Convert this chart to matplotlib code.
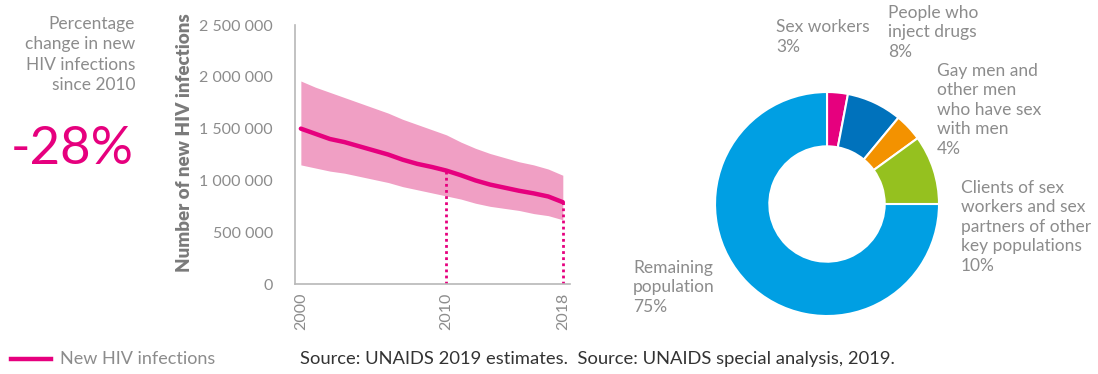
import matplotlib.pyplot as plt
import matplotlib.ticker as mticker

plt.rcParams['font.family'] = ['Lato', 'DejaVu Sans']

# New HIV infections, 2000-2018, with uncertainty bounds
years = list(range(2000, 2019))
infections = [1.50e6, 1.45e6, 1.40e6, 1.37e6, 1.33e6, 1.29e6, 1.25e6, 1.20e6, 1.16e6, 1.13e6,
              1.095e6, 1.05e6, 1.00e6, 0.96e6, 0.93e6, 0.90e6, 0.875e6, 0.845e6, 0.79e6]
upper = [1.96e6, 1.90e6, 1.85e6, 1.80e6, 1.75e6, 1.70e6, 1.65e6, 1.59e6, 1.54e6, 1.49e6,
         1.44e6, 1.37e6, 1.31e6, 1.26e6, 1.22e6, 1.18e6, 1.15e6, 1.11e6, 1.05e6]
lower = [1.15e6, 1.12e6, 1.09e6, 1.07e6, 1.04e6, 1.01e6, 0.98e6, 0.94e6, 0.91e6, 0.88e6,
         0.85e6, 0.82e6, 0.78e6, 0.75e6, 0.73e6, 0.71e6, 0.68e6, 0.66e6, 0.62e6]
marked_years = [2010, 2018]
xtick_years = [2000, 2010, 2018]

# Distribution of new infections by population
groups = ['Sex workers', 'People who\ninject drugs', 'Gay men and\nother men\nwho have sex\nwith men',
          'Clients of sex\nworkers and sex\npartners of other\nkey populations', 'Remaining\npopulation']
shares = [3, 8, 4, 10, 75]

pink = '#E6007E'
gray = '#8C8C8C'
pie_colors = ['#E6007E', '#0072BC', '#F39200', '#95C11F', '#009FE3']

fig = plt.figure(figsize=(10.98, 3.74), dpi=100)

# headline figure on the left
fig.text(0.123, 0.958, 'Percentage\nchange in new\nHIV infections\nsince 2010', ha='right', va='top',
         fontsize=12.5, color=gray, linespacing=1.35)
fig.text(0.122, 0.60, '-28%', ha='right', va='center', fontsize=38, color=pink)

# line chart
ax = fig.add_axes([0.2687, 0.2406, 0.2505, 0.6924])
ax.fill_between(years, lower, upper, color='#F09FC4', linewidth=0)
ax.plot(years, infections, color=pink, linewidth=3.2, solid_capstyle='round')
for yr in marked_years:
    ax.vlines(yr, 0, infections[years.index(yr)], colors=pink, linestyles=(0, (1, 1.2)), linewidth=2)
ax.set_xlim(1999.6, 2018.5)
ax.set_ylim(0, 2.5e6)
ax.set_xticks(xtick_years)
ax.set_xticklabels([str(y) for y in xtick_years], rotation=90, fontsize=11.5, color=gray)
ax.yaxis.set_major_locator(mticker.MultipleLocator(500000))
ax.yaxis.set_major_formatter(mticker.FuncFormatter(lambda v, p: f'{int(v):,}'.replace(',', ' ')))
ax.tick_params(axis='y', labelsize=11.5, labelcolor=gray, length=0, pad=16)
ax.tick_params(axis='x', length=0, pad=6)
for side in ['top', 'right']:
    ax.spines[side].set_visible(False)
for side in ['left', 'bottom']:
    ax.spines[side].set_color('#B8B8B8')
    ax.spines[side].set_linewidth(1.2)
ax.set_ylabel('Number of new HIV infections', fontsize=13.5, fontweight='heavy', color='#7A7A7A')
ax.yaxis.set_label_coords(-0.37, 0.545)

# donut chart
pax = fig.add_axes([0.6512, 0.155, 0.204, 0.599])
pax.pie(shares, colors=pie_colors, startangle=90, counterclock=False, radius=1,
        wedgeprops=dict(width=0.485, edgecolor='white', linewidth=1.5))
pax.set_xlim(-1, 1)
pax.set_ylim(-1, 1)
pax.set_aspect('equal')

label_pos = [(0.7067, 0.948), (0.8088, 0.987), (0.8534, 0.832), (0.8752, 0.519), (0.5765, 0.305)]
for name, share, (x, y) in zip(groups, shares, label_pos):
    fig.text(x, y, f'{name}\n{share}%', ha='left', va='top', fontsize=12.5, color=gray, linespacing=1.27)

# legend and source line
fig.lines.append(plt.Line2D([0.010, 0.046], [0.040, 0.040], color=pink, linewidth=3.2,
                            transform=fig.transFigure))
fig.text(0.055, 0.040, 'New HIV infections', ha='left', va='center', fontsize=13, color=gray)
fig.text(0.273, 0.040, 'Source: UNAIDS 2019 estimates.  Source: UNAIDS special analysis, 2019.',
         ha='left', va='center', fontsize=13.2, color='#333333')

fig.savefig('out.png', dpi=100)
